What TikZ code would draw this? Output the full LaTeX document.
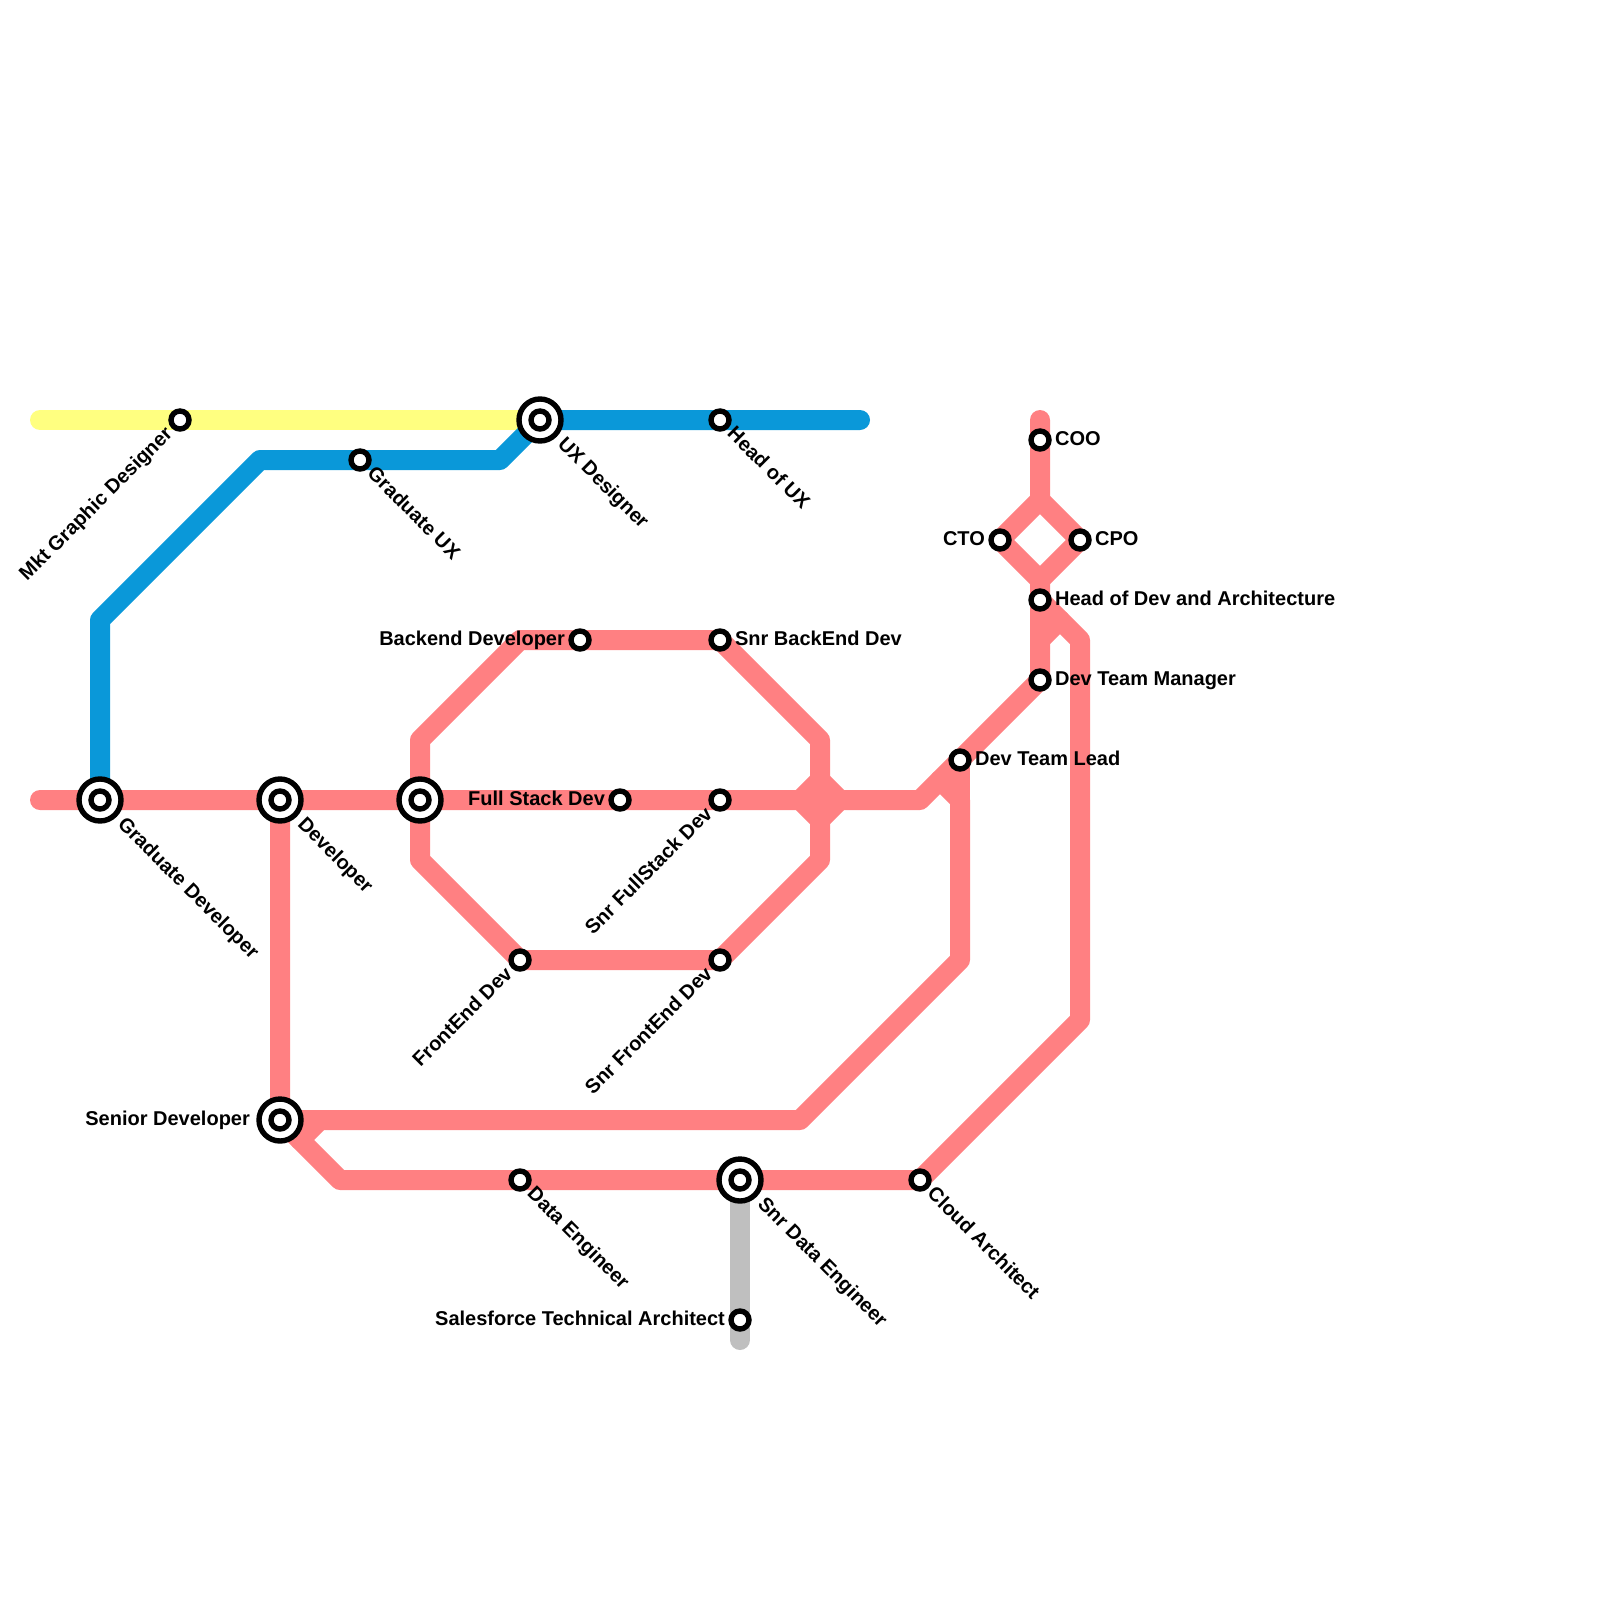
\documentclass[tikz,border=0pt]{standalone}
\usepackage{fontspec}
\setmainfont{Liberation Sans}
\usetikzlibrary{backgrounds,positioning}
\definecolor{devred}{HTML}{FF8082}
\definecolor{uxblue}{HTML}{0A98D9}
\definecolor{mktyellow}{HTML}{FFFF80}
\definecolor{sfgrey}{HTML}{BFBFBF}
\begin{document}
\begin{tikzpicture}[x=0.5pt,y=-0.5pt,
    route/.style={line width=10pt,line cap=round,line join=round},
    stopbox/.style={circle,draw=black,fill=white,line width=2.7pt,minimum size=9pt,inner sep=0pt},
    hub/.style={stopbox,minimum size=21pt,path picture={\draw[black,fill=white,line width=2.7pt] (path picture bounding box.center) circle (4.5pt);}},
    tag/.style={font=\fontsize{10}{12}\bfseries\selectfont,inner sep=0pt,text height=7.2pt,text depth=0pt,yshift=0.8pt},
    tagdown/.style={tag,xshift=#1,yshift=-#1,rotate=-45,anchor=west},
    tagup/.style={tag,xshift=-#1,yshift=-#1,rotate=45,anchor=east}]
  \useasboundingbox (0,0) rectangle (1600,1600);
  % stops
  \node[stopbox] (mkt) at (180,420) {};
  \node[stopbox] (gradux) at (360,460) {};
  \node[stopbox] (headux) at (720,420) {};
  \node[stopbox] (coo) at (1040,440) {};
  \node[stopbox] (cto) at (1000,540) {};
  \node[stopbox] (cpo) at (1080,540) {};
  \node[stopbox] (headdev) at (1040,600) {};
  \node[stopbox] (manager) at (1040,680) {};
  \node[stopbox] (lead) at (960,760) {};
  \node[stopbox] (backend) at (580,640) {};
  \node[stopbox] (snrback) at (720,640) {};
  \node[stopbox] (fullstack) at (620,800) {};
  \node[stopbox] (snrfull) at (720,800) {};
  \node[stopbox] (frontend) at (520,960) {};
  \node[stopbox] (snrfront) at (720,960) {};
  \node[stopbox] (dataeng) at (520,1180) {};
  \node[stopbox] (cloud) at (920,1180) {};
  \node[stopbox] (salesforce) at (740,1320) {};
  \node[hub] (ux) at (540,420) {};
  \node[hub] (graddev) at (100,800) {};
  \node[hub] (dev) at (280,800) {};
  \node[hub] (mid) at (420,800) {};
  \node[hub] (senior) at (280,1120) {};
  \node[hub] (snrdata) at (740,1180) {};
  % bends
  \foreach \bname/\bx/\by in {ystart/40/420,bend/860/420,ba/100/620,bb/260/460,bc/500/460,
      rstart/40/800,rkink/920/800,rjoin/940/780,rdrop/960/800,octa/420/740,octb/520/640,octc/820/740,
      octd/820/860,octe/420/860,crossw/800/800,crossn/820/780,crosse/840/800,crosss/820/820,
      topend/1040/420,fa/320/1120,fb/300/1140,fc/800/1120,fd/960/960,ga/340/1180,gb/1080/1020,
      gc/1080/640,gd/1040/640,ge/1060/620,dn/1040/500,ds/1040/580,gend/740/1340}{
    \coordinate (\bname) at (\bx,\by);
  }
  \begin{pgfonlayer}{background}
    \draw[route,mktyellow] (ystart)--(ux.center);
    \draw[route,uxblue] (graddev.center)--(ba)--(bb)--(gradux.center)--(bc)--(ux.center)--(headux.center)--(bend);
    \draw[route,sfgrey] (snrdata.center)--(salesforce.center)--(gend);
    \begin{scope}[route,devred]
      \draw (rstart)--(graddev.center)--(dev.center)--(mid.center)--(fullstack.center)--(snrfull.center)--(rkink)--(lead.center)--(manager.center);
      \draw (mid.center)--(octa)--(octb)--(backend.center)--(snrback.center)--(octc)--(octd)--(snrfront.center)--(frontend.center)--(octe)--cycle;
      \draw (crossw)--(crossn)--(crosse)--(crosss)--cycle;
      \draw (dev.center)--(senior.center)--(fa)--(fc)--(fd)--(rdrop)--(rjoin);
      \draw (rdrop)--(lead.center);
      \draw (fa)--(fb);
      \draw (senior.center)--(ga)--(dataeng.center)--(snrdata.center)--(cloud.center)--(gb)--(gc)--(headdev.center);
      \draw (topend)--(coo.center)--(dn)--(cto.center)--(ds)--(headdev.center)--(manager.center);
      \draw (dn)--(cpo.center)--(ds);
      \draw (gd)--(ge);
    \end{scope}
  \end{pgfonlayer}
  % names
  \node[tagup=5.7pt] (mktname) at (mkt) {Mkt Graphic Designer};
  \node[tagdown=5.6pt] (graduxname) at (gradux) {Graduate UX};
  \node[tagdown=5.6pt] (headuxname) at (headux) {Head of UX};
  \node[tagdown=10.8pt] (uxname) at (ux) {UX Designer};
  \node[tagdown=10.8pt] (graddevname) at (graddev) {Graduate Developer};
  \node[tagdown=10.8pt] (devname) at (dev) {Developer};
  \node[tagdown=5.6pt] (dataname) at (dataeng) {Data Engineer};
  \node[tagdown=10.8pt] (snrdataname) at (snrdata) {Snr Data Engineer};
  \node[tagdown=5.6pt] (cloudname) at (cloud) {Cloud Architect};
  \node[tagup=5.7pt] (frontname) at (frontend) {FrontEnd Dev};
  \node[tagup=5.7pt] (snrfrontname) at (snrfront) {Snr FrontEnd Dev};
  \node[tagup=5.7pt] (snrfullname) at (snrfull) {Snr FullStack Dev};
  \node[tag,right=1.5pt of coo] (cooname) {COO};
  \node[tag,right=1.5pt of cpo] (cponame) {CPO};
  \node[tag,left=1.5pt of cto] (ctoname) {CTO};
  \node[tag,right=1.5pt of headdev] (headdevname) {Head of Dev and Architecture};
  \node[tag,right=1.5pt of manager] (managername) {Dev Team Manager};
  \node[tag,right=1.5pt of lead] (leadname) {Dev Team Lead};
  \node[tag,right=1.5pt of snrback] (snrbackname) {Snr BackEnd Dev};
  \node[tag,left=1.5pt of backend] (backname) {Backend Developer};
  \node[tag,left=1.5pt of fullstack] (fullname) {Full Stack Dev};
  \node[tag,left=1.5pt of salesforce] (salesname) {Salesforce Technical Architect};
  \node[tag,left=3pt of senior] (seniorname) {Senior Developer};
\end{tikzpicture}
\end{document}
